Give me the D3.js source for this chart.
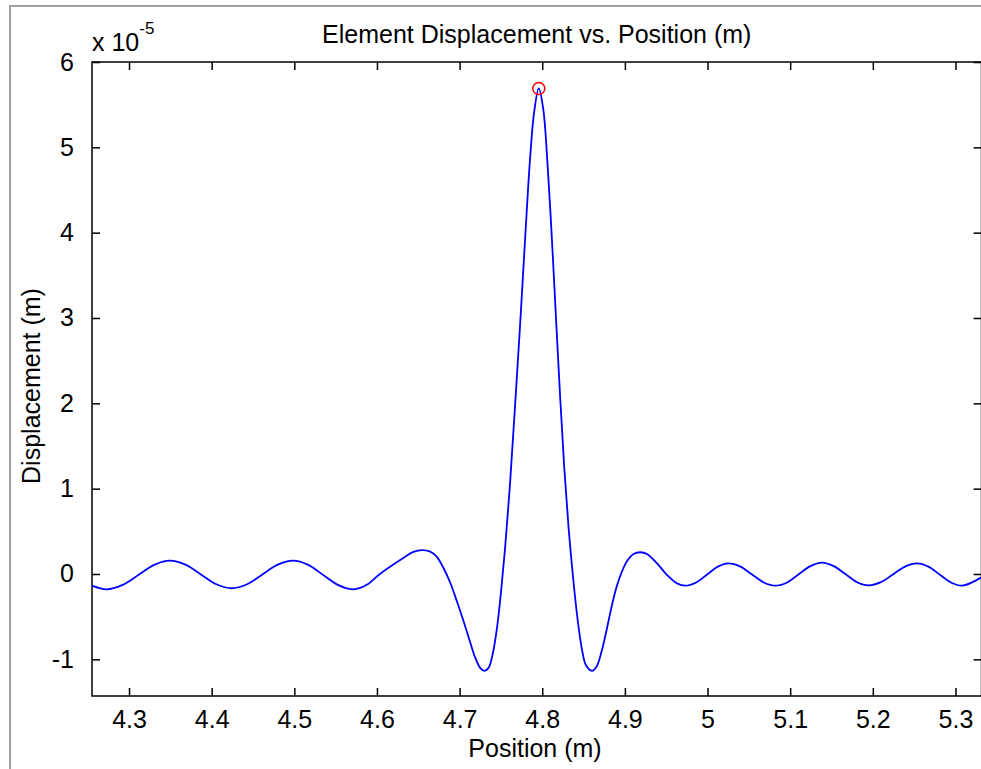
<!DOCTYPE html>
<html>
<head>
<meta charset="utf-8">
<script src="https://cdn.jsdelivr.net/npm/d3@7"></script>
<style>
  html, body { margin: 0; padding: 0; background: #fff; }
  svg { display: block; }
  text { font-family: "Liberation Sans", Arial, sans-serif; fill: #000; }
</style>
</head>
<body>
<svg id="chart" width="981" height="769"></svg>
<script>
// data (displacement in units of 1e-5 m)
var positions = [
  4.2552, 4.2730, 4.2922, 4.3113, 4.3305, 4.3496, 4.3683, 4.3870, 4.4057, 4.4243,
  4.4429, 4.4614, 4.4800, 4.4985, 4.5168, 4.5350, 4.5533, 4.5716, 4.5876, 4.6035,
  4.6281, 4.6442, 4.6544, 4.6644, 4.6725, 4.6805, 4.6886, 4.6967, 4.7047, 4.7128,
  4.7189, 4.7249, 4.7298, 4.7350, 4.7400, 4.7450, 4.7500, 4.7550, 4.7613, 4.7673,
  4.7734, 4.7794, 4.7855, 4.7903, 4.7958, 4.8012, 4.8061, 4.8121, 4.8169, 4.8218,
  4.8266, 4.8318, 4.8379, 4.8430, 4.8480, 4.8530, 4.8602, 4.8660, 4.8720, 4.8780,
  4.8840, 4.8900, 4.8965, 4.9025, 4.9105, 4.9186, 4.9267, 4.9389, 4.9510, 4.9631,
  4.9731, 4.9863, 4.9994, 5.0125, 5.0256, 5.0398, 5.0539, 5.0680, 5.0821, 5.0963,
  5.1104, 5.1245, 5.1386, 5.1527, 5.1668, 5.1809, 5.1950, 5.2097, 5.2243, 5.2390,
  5.2536, 5.2672, 5.2808, 5.2945, 5.3081, 5.3315
];
var displacement = [
  -0.137, -0.180, -0.128, -0.012, 0.107, 0.156, 0.109, -0.005, -0.120, -0.167,
  -0.120, -0.005, 0.109, 0.156, 0.107, -0.012, -0.130, -0.180, -0.127, 0.000,
  0.164, 0.260, 0.280, 0.262, 0.200, 0.070, -0.100, -0.320, -0.550, -0.800,
  -0.980, -1.100, -1.135, -1.100, -0.940, -0.650, -0.220, 0.300, 1.100, 2.000,
  2.950, 3.950, 4.900, 5.420, 5.690, 5.450, 4.850, 3.850, 2.950, 2.050,
  1.250, 0.550, -0.100, -0.550, -0.880, -1.070, -1.135, -1.080, -0.900, -0.650,
  -0.380, -0.150, 0.030, 0.150, 0.235, 0.255, 0.235, 0.125, -0.012, -0.110,
  -0.137, -0.099, -0.006, 0.087, 0.125, 0.087, -0.006, -0.099, -0.137, -0.099,
  -0.002, 0.092, 0.133, 0.092, 0.000, -0.096, -0.133, -0.096, -0.006, 0.087,
  0.125, 0.087, -0.006, -0.099, -0.137, -0.039
];
var peak = [4.7958, 5.69];

var xTicks = [4.3, 4.4, 4.5, 4.6, 4.7, 4.8, 4.9, 5, 5.1, 5.2, 5.3];
var yTicks = [-1, 0, 1, 2, 3, 4, 5, 6];

var titleText = "Element Displacement vs. Position (m)";
var xLabel = "Position (m)";
var yLabel = "Displacement (m)";

var svg = d3.select("#chart");
var plotL = 92, plotR = 981.5, plotT = 62, plotB = 696;
var fs = 25;

var x = d3.scaleLinear().domain([4.2552, 5.3315]).range([plotL, plotR]);
var y = d3.scaleLinear().domain([-1.4297, 6]).range([plotB, plotT]);

// figure frame (top and left edges visible)
svg.append("path")
  .attr("d", "M10,769 L10,6 L981,6")
  .attr("fill", "none")
  .attr("stroke", "#a0a0a0")
  .attr("stroke-width", 2);

// axes box with inward ticks, plain hyphen for negatives like matlab
var tickLen = 8;
var plain = function (d) { return String(d); };
var axisBottom = d3.axisBottom(x).tickValues(xTicks).tickSize(-tickLen).tickPadding(14).tickFormat(plain);
var axisTop = d3.axisTop(x).tickValues(xTicks).tickSize(-tickLen).tickFormat("");
var axisLeft = d3.axisLeft(y).tickValues(yTicks).tickSize(-tickLen).tickPadding(18).tickFormat(plain);
var axisRight = d3.axisRight(y).tickValues(yTicks).tickSize(-tickLen).tickFormat("");

function styleAxis(g) {
  g.select(".domain").remove();
  g.selectAll(".tick line").attr("stroke", "#000").attr("stroke-width", 1.5);
  g.selectAll(".tick text").attr("font-size", fs).attr("fill", "#000")
    .attr("font-family", "Liberation Sans, Arial, sans-serif");
}

svg.append("g").attr("transform", "translate(0," + plotB + ")").call(axisBottom).call(styleAxis);
svg.append("g").attr("transform", "translate(0," + plotT + ")").call(axisTop).call(styleAxis);
svg.append("g").attr("transform", "translate(" + plotL + ",0)").call(axisLeft).call(styleAxis);
svg.append("g").attr("transform", "translate(" + plotR + ",0)").call(axisRight).call(styleAxis);

svg.append("rect")
  .attr("x", plotL).attr("y", plotT)
  .attr("width", plotR - plotL).attr("height", plotB - plotT)
  .attr("fill", "none").attr("stroke", "#000").attr("stroke-width", 1.5);

// the curve
var pts = positions.map(function (p, i) { return [p, displacement[i]]; });
var line = d3.line()
  .x(function (d) { return x(d[0]); })
  .y(function (d) { return y(d[1]); })
  .curve(d3.curveCatmullRom.alpha(0.5));

svg.append("path")
  .datum(pts)
  .attr("d", line)
  .attr("fill", "none")
  .attr("stroke", "#0000ff")
  .attr("stroke-width", 1.8);

// peak marker
svg.append("circle")
  .attr("cx", x(peak[0])).attr("cy", y(peak[1]))
  .attr("r", 6)
  .attr("fill", "none")
  .attr("stroke", "#ff0000")
  .attr("stroke-width", 1.5);

// exponent label
var expo = svg.append("text").attr("x", plotL).attr("y", 51).attr("font-size", fs);
expo.append("tspan").text("x 10");
expo.append("tspan").attr("dy", -17).attr("font-size", 17).text("-5");

// title and axis labels
svg.append("text")
  .attr("x", (plotL + plotR) / 2).attr("y", 43)
  .attr("text-anchor", "middle").attr("font-size", fs)
  .text(titleText);

svg.append("text")
  .attr("x", 535).attr("y", 757)
  .attr("text-anchor", "middle").attr("font-size", fs)
  .text(xLabel);

svg.append("text")
  .attr("transform", "translate(40,386) rotate(-90)")
  .attr("text-anchor", "middle").attr("font-size", fs)
  .text(yLabel);
</script>
</body>
</html>
